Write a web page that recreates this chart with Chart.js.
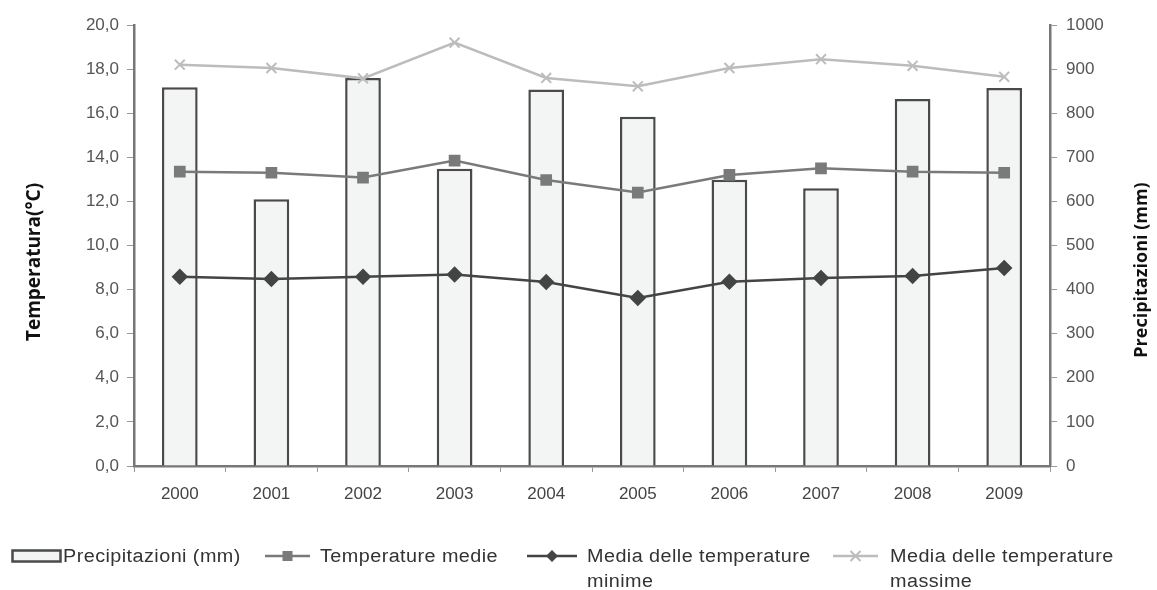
<!DOCTYPE html>
<html>
<head>
<meta charset="utf-8">
<script src="https://cdn.jsdelivr.net/npm/chart.js@4/dist/chart.umd.min.js"></script>
<style>
  html, body { margin: 0; padding: 0; background: #fff; }
  #wrap { position: relative; width: 1157px; height: 590px; }
  #legend { position: absolute; left: 0; top: 0; width: 1157px; height: 590px; pointer-events: none;
            font-family: "Liberation Sans", Arial, sans-serif; font-size: 18px; color: #333; }
  .item { position: absolute; }
  .item svg { position: absolute; }
  .txt { position: absolute; line-height: 25px; white-space: nowrap; letter-spacing: 0.4px;
         transform: scaleX(1.1); transform-origin: left top; }
</style>
</head>
<body>
<div id="wrap">
  <canvas id="climateChart"></canvas>
  <div id="legend"></div>
</div>
<script>
// Data
const years = ['2000', '2001', '2002', '2003', '2004', '2005', '2006', '2007', '2008', '2009'];
const precipitazioni = [859, 605, 880, 674, 854, 792, 649, 630, 832, 857];
const tempMedie = [13.35, 13.3, 13.08, 13.85, 12.97, 12.4, 13.2, 13.5, 13.35, 13.3];
const tempMinime = [8.58, 8.48, 8.58, 8.68, 8.34, 7.62, 8.36, 8.53, 8.62, 8.98];
const tempMassime = [18.2, 18.05, 17.58, 19.2, 17.6, 17.22, 18.05, 18.45, 18.15, 17.65];

const legendItems = [
    { label: 'Precipitazioni (mm)', style: 'bar' },
    { label: 'Temperature medie', style: 'rect', color: '#7a7a7a' },
    { label: 'Media delle temperature\nminime', style: 'diamond', color: '#444444' },
    { label: 'Media delle temperature\nmassime', style: 'cross', color: '#bcbcbc' }
];

// Axis titles drawn rotated bottom-to-top on both sides
const axisTitles = {
    id: 'axisTitles',
    afterDraw(chart) {
        const ctx = chart.ctx;
        ctx.save();
        ctx.font = 'bold 19px "Open Sans", sans-serif';
        ctx.fillStyle = '#111';
        ctx.textAlign = 'center';
        ctx.textBaseline = 'middle';
        ctx.translate(35, 262);
        ctx.rotate(-Math.PI / 2);
        ctx.fillText('Temperatura(°C)', 0, 0);
        ctx.restore();
        ctx.save();
        ctx.font = 'bold 18px "Open Sans", sans-serif';
        ctx.fillStyle = '#111';
        ctx.textAlign = 'center';
        ctx.textBaseline = 'middle';
        ctx.translate(1142, 270);
        ctx.rotate(-Math.PI / 2);
        ctx.fillText('Precipitazioni (mm)', 0, 0);
        ctx.restore();
    }
};

const tickFont = { family: '"Liberation Sans", Arial, sans-serif', size: 17 };

const ctx = document.getElementById('climateChart').getContext('2d');
const climateChart = new Chart(ctx, {
    data: {
        labels: years,
        datasets: [
            {
                type: 'line',
                label: 'Media delle temperature massime',
                data: tempMassime,
                yAxisID: 'y',
                borderColor: '#bcbcbc',
                backgroundColor: '#bcbcbc',
                borderWidth: 2.5,
                pointStyle: 'crossRot',
                pointRadius: 7,
                pointBorderWidth: 2,
                tension: 0,
                order: 3
            },
            {
                type: 'line',
                label: 'Temperature medie',
                data: tempMedie,
                yAxisID: 'y',
                borderColor: '#7a7a7a',
                backgroundColor: '#7a7a7a',
                borderWidth: 2.5,
                pointStyle: 'rect',
                pointRadius: 6.5,
                tension: 0,
                order: 2
            },
            {
                type: 'line',
                label: 'Media delle temperature minime',
                data: tempMinime,
                yAxisID: 'y',
                borderColor: '#444444',
                backgroundColor: '#444444',
                borderWidth: 2.5,
                pointStyle: 'rectRot',
                pointRadius: 6.5,
                tension: 0,
                order: 1
            },
            {
                type: 'bar',
                label: 'Precipitazioni (mm)',
                data: precipitazioni,
                yAxisID: 'y1',
                backgroundColor: '#f3f5f4',
                borderColor: '#4a4a4a',
                borderWidth: 2.5,
                categoryPercentage: 1,
                barPercentage: 0.39,
                order: 4
            }
        ]
    },
    options: {
        responsive: true,
        maintainAspectRatio: false,
        animation: false,
        layout: { padding: { top: 25, bottom: 84, left: 0, right: 0 } },
        plugins: {
            legend: { display: false },
            tooltip: { enabled: false }
        },
        scales: {
            x: {
                afterFit: (scale) => { scale.height = 40; },
                grid: { drawOnChartArea: false, tickLength: 6, color: '#999' },
                border: { color: '#777', width: 2.5 },
                ticks: { font: tickFont, color: '#444', padding: 12 }
            },
            y: {
                position: 'left',
                min: 0,
                max: 20,
                afterFit: (scale) => { scale.width = 134; },
                grid: { drawOnChartArea: false, tickLength: 7, color: '#999' },
                border: { color: '#777', width: 2.5 },
                ticks: {
                    stepSize: 2,
                    font: tickFont,
                    color: '#555',
                    padding: 8,
                    callback: (v) => v.toFixed(1).replace('.', ',')
                }
            },
            y1: {
                position: 'right',
                min: 0,
                max: 1000,
                afterFit: (scale) => { scale.width = 107; },
                grid: { drawOnChartArea: false, tickLength: 7, color: '#999' },
                border: { color: '#777', width: 2.5 },
                ticks: {
                    stepSize: 100,
                    font: tickFont,
                    color: '#555',
                    padding: 9,
                    callback: (v) => String(v)
                }
            }
        }
    },
    plugins: [axisTitles]
});

// HTML legend under the chart
const legendPos = [
    { swatchX: 11, swatchW: 50, textX: 63 },
    { swatchX: 265, swatchW: 45, textX: 320 },
    { swatchX: 527, swatchW: 50, textX: 587 },
    { swatchX: 833, swatchW: 45, textX: 890 }
];
const legend = document.getElementById('legend');
legendItems.forEach((it, i) => {
    const pos = legendPos[i];
    const w = pos.swatchW;
    const mx = w / 2;
    let svg;
    if (it.style === 'bar') {
        svg = `<svg width="${w + 2}" height="16" style="left:${pos.swatchX}px;top:548px">
            <rect x="1.5" y="2.5" width="${w - 2}" height="11" fill="#f3f5f4" stroke="#4a4a4a" stroke-width="2.5"/></svg>`;
    } else {
        let marker = '';
        if (it.style === 'rect') marker = `<rect x="${mx - 5}" y="3" width="10" height="10" fill="${it.color}"/>`;
        if (it.style === 'diamond') marker = `<polygon points="${mx},2 ${mx + 6},8 ${mx},14 ${mx - 6},8" fill="${it.color}"/>`;
        if (it.style === 'cross') marker = `<path d="M${mx - 5},3 L${mx + 5},13 M${mx + 5},3 L${mx - 5},13" stroke="${it.color}" stroke-width="2"/>`;
        svg = `<svg width="${w}" height="16" style="left:${pos.swatchX}px;top:548px">
            <line x1="0" y1="8" x2="${w}" y2="8" stroke="${it.color}" stroke-width="2.5"/>${marker}</svg>`;
    }
    const lines = it.label.split('\n').join('<br>');
    const item = document.createElement('div');
    item.className = 'item';
    item.innerHTML = svg + `<div class="txt" style="left:${pos.textX}px;top:544px">${lines}</div>`;
    legend.appendChild(item);
});
</script>
</body>
</html>
